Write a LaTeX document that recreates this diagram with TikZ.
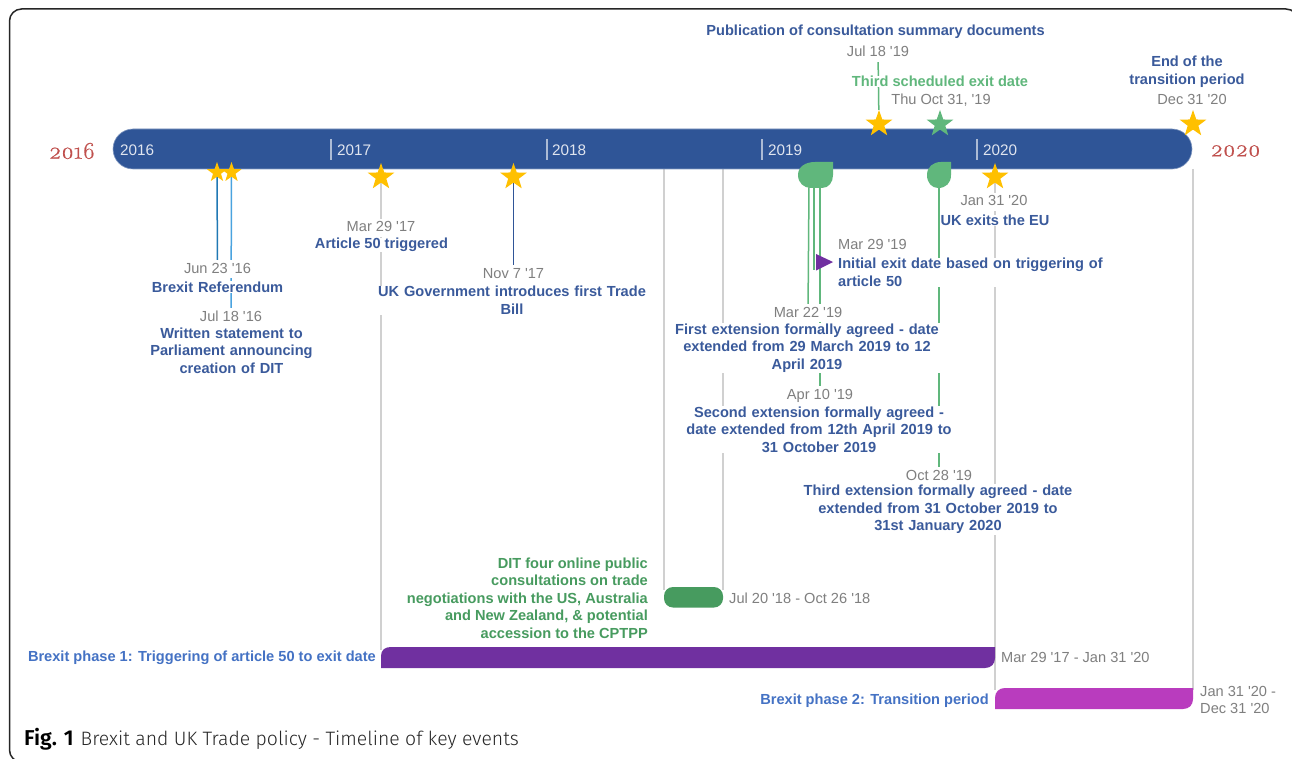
\documentclass[tikz,border=0pt]{standalone}
\usepackage{fontspec}
\usetikzlibrary{shapes.geometric,backgrounds}
\newfontfamily\lib{Liberation Sans}
\newfontfamily\capfont[UprightFont=* Light,BoldFont=* SemiBold]{Fira Sans}
\newfontfamily\oldnum[Numbers=OldStyle,RawFeature={embolden=0.5}]{Latin Modern Roman}
\definecolor{barblue}{HTML}{2F5597}
\definecolor{txtblue}{HTML}{3A5A9B}
\definecolor{lblue}{HTML}{4472C4}
\definecolor{gold}{HTML}{FFC000}
\definecolor{lgreen}{HTML}{60B77C}
\definecolor{dgreen}{HTML}{479B5F}
\definecolor{purp}{HTML}{7030A0}
\definecolor{magen}{HTML}{B93CBE}
\definecolor{grayt}{HTML}{7F7F7F}
\definecolor{grayl}{HTML}{D0D0D0}
\definecolor{yearred}{HTML}{C0504D}
\definecolor{lineA}{HTML}{2078B4}
\definecolor{lineB}{HTML}{4AA3DF}
\tikzset{
  x=1pt,y=-1pt,
  base/.style={inner sep=0pt,fill=white,font=\lib\fontsize{14.6}{17.6}\selectfont},
  datelbl/.style={base,text=grayt,text height=11pt,text depth=3pt,inner ysep=2pt},
  ttl/.style={base,inner ysep=.6pt,text=txtblue,font=\lib\bfseries\fontsize{14.6}{17.6}\selectfont,align=center},
  gttl/.style={ttl,text=lgreen},
  phase/.style={ttl,text=lblue,fill=none},
  yearlbl/.style={inner sep=0pt,text=white!85!barblue,font=\lib\fontsize{15.3}{18}\selectfont,anchor=west},
  bigyear/.style={inner sep=0pt,text=yearred,font=\oldnum\fontsize{24}{26}\selectfont},
  gold star/.style={shape=star,star points=5,star point ratio=2.5,fill=gold,inner sep=0pt,minimum size=#1},
  gline/.style={grayl,line width=1.6pt},
  glin/.style={lgreen,line width=1.5pt},
  tick/.style={white!60!barblue,line width=1.5pt},
}
\begin{document}
\begin{tikzpicture}
\useasboundingbox (0,0) rectangle (1292,759);

% anchors
\coordinate (b664) at (664,169); \coordinate (e664) at (664,590);
\coordinate (b723) at (723,169); \coordinate (e723) at (723,590);
\coordinate (b1193) at (1193,169); \coordinate (e1193) at (1193,690);
\coordinate (e381) at (381,650); \coordinate (e995) at (995,690);
\coordinate (leafA) at (809,186); \coordinate (leafB) at (814,186); \coordinate (leafC) at (820,186); \coordinate (leafD) at (939,186);
\coordinate (triL) at (814,270);

% titles and dates
\node[ttl] (tPub) at (875.5,32) {Publication of consultation summary documents};
\node[datelbl] (dE) at (878,53) {Jul 18 '19};
\node[gttl] (t3rd) at (940,81.5) {Third scheduled exit date};
\node[datelbl] (dF) at (941,101) {Thu Oct 31, '19};
\node[ttl] (tEnd) at (1187,72) {End of the\\transition period};
\node[datelbl] (dG) at (1192,101) {Dec 31 '20};

\node[datelbl] (dH) at (994,202) {Jan 31 '20};
\node[ttl] (tUK) at (995,220.5) {UK exits the EU};
\node[datelbl,anchor=west] (dL) at (838,246) {Mar 29 '19};
\node[ttl,align=left,text width=280pt,anchor=west] (tInit) at (838,272.5) {Initial exit date based on triggering of\\article 50};

\node[datelbl] (dA) at (217.5,269) {Jun 23 '16};
\node[ttl,text width=135pt] (tRef) at (217.5,287) {Brexit Referendum};
\node[datelbl] (dB) at (231,317) {Jul 18 '16};
\node[ttl,text width=165pt] (tWri) at (231.5,350.5) {Written statement to\\Parliament announcing\\creation of DIT};
\node[datelbl] (dC) at (381,228) {Mar 29 '17};
\node[ttl] (tArt) at (381.5,245) {Article 50 triggered};
\node[datelbl] (dD) at (513.5,274) {Nov 7 '17};
\node[ttl,text width=270pt] (tGov) at (512,300.5) {UK Government introduces first Trade\\Bill};

\node[datelbl] (dI) at (808,313) {Mar 22 '19};
\node[ttl,text width=276pt] (t1st) at (807,348) {First extension formally agreed - date\\extended from 29 March 2019 to 12\\April 2019};
\node[datelbl] (dJ) at (820,395) {Apr 10 '19};
\node[ttl,text width=276pt] (t2nd) at (819,429.5) {Second extension formally agreed -\\date extended from 12th April 2019 to\\31 October 2019};
\node[datelbl] (dK) at (939,476) {Oct 28 '19};
\node[ttl,text width=276pt] (t3ex) at (938,509.5) {Third extension formally agreed - date\\extended from 31 October 2019 to\\31st January 2020};

\node[ttl,text=dgreen,fill=none,align=right,anchor=east] (tDIT) at (648,598) {DIT four online public\\consultations on trade\\negotiations with the US, Australia\\and New Zealand, \& potential\\accession to the CPTPP};
\node[datelbl,fill=none,anchor=west] (dDIT) at (729,599) {Jul 20 '18 - Oct 26 '18};
\node[phase,anchor=east] (tP1) at (376,658) {Brexit phase 1: Triggering of article 50 to exit date};
\node[datelbl,fill=none,anchor=west] (dP1) at (1001,658) {Mar 29 '17 - Jan 31 '20};
\node[phase,anchor=east] (tP2) at (989,701) {Brexit phase 2: Transition period};
\node[base,text=grayt,fill=none,align=left,anchor=west] (dP2) at (1200,700) {Jan 31 '20 -\\Dec 31 '20};

\node[inner sep=0pt,anchor=west,text=black!85,font=\capfont\fontsize{19.4}{22}\selectfont] (cap) at (24,739) {{\bfseries\fontsize{21.5}{22}\selectfont\color{black}Fig. 1}\hspace{1.5pt} Brexit and UK Trade policy - Timeline of key events};

% main bar
\draw[fill=barblue,draw=white!40!barblue,line width=.6pt,rounded corners=20pt] (113,129) rectangle (1192,169);
\node[yearlbl] (y16) at (120,150.5) {2016};
\node[yearlbl] (y17) at (337,150.5) {2017};
\node[yearlbl] (y18) at (552,150.5) {2018};
\node[yearlbl] (y19) at (768,150.5) {2019};
\node[yearlbl] (y20) at (983,150.5) {2020};
\draw[tick] (331,139) -- (331,160);
\draw[tick] (547,139) -- (547,160);
\draw[tick] (762,139) -- (762,160);
\draw[tick] (977,139) -- (977,160);
\node[bigyear] (L16) at (72,151) {2016};
\node[bigyear] (L20) at (1235.5,151) {2020};

% leaves, triangle
\fill[lgreen] (833,162) -- (815,162) .. controls (805,162) and (798,167) .. (798,175) .. controls (798,183) and (804,188) .. (811,188) -- (822,188) .. controls (829,188) and (833,182) .. (833,175) -- cycle;
\fill[lgreen] (951,162) -- (941,162) .. controls (933,162) and (927,167) .. (927,175) .. controls (927,183) and (932,188) .. (938,188) .. controls (946,188) and (951,183) .. (951,175) -- cycle;
\fill[purp] (816,254) -- (833,262) -- (816,270.5) -- cycle;

% stars
\node[gold star=21pt] (sA) at (217,172.5) {};
\node[gold star=21pt] (sB) at (231.5,172.5) {};
\node[gold star=28pt] (sC) at (381,177) {};
\node[gold star=28pt] (sD) at (513.5,177) {};
\node[gold star=28pt] (sE) at (879,124) {};
\node[gold star=28pt,fill=lgreen] (sF) at (940,124) {};
\node[gold star=28pt] (sG) at (1193,124) {};
\node[gold star=28pt] (sH) at (995,177) {};

% gantt bars
\fill[dgreen,rounded corners=9pt] (664,587) rectangle (723,607.5);
\fill[purp] (381,668) -- (381,656) .. controls (381,650) and (385,647) .. (391,647) -- (995,647) -- (995,658) .. controls (995,664) and (991,668) .. (985,668) -- cycle;
\fill[magen] (995,709) -- (995,698) .. controls (995,692) and (999,688) .. (1005,688) -- (1193,688) -- (1193,699) .. controls (1193,705) and (1189,709) .. (1183,709) -- cycle;

% connectors behind everything
\begin{scope}[on background layer]
\fill[white] (0,0) rectangle (1292,759);
\draw[black!85,line width=1.5pt,rounded corners=12pt] (9.5,9) rectangle (1298,762);
\draw[line width=1.5pt,lineA] (sA) -- (dA);
\draw[line width=1.5pt,lineB] (sB) -- (dB);
\draw[gline] (sC) -- (e381);
\draw[line width=1.2pt,barblue] (sD) -- (dD);
\draw[glin] (sE) -- (dE);
\draw[gline] (sH) -- (e995);
\draw[gline] (b1193) -- (e1193);
\draw[gline] (b664) -- (e664);
\draw[gline] (b723) -- (e723);
\draw[glin] (leafA) -- (dI);
\draw[glin] (leafB) -- (triL);
\draw[glin] (leafC) -- (dJ);
\draw[glin] (leafD) -- (dK);
\end{scope}
\end{tikzpicture}
\end{document}
